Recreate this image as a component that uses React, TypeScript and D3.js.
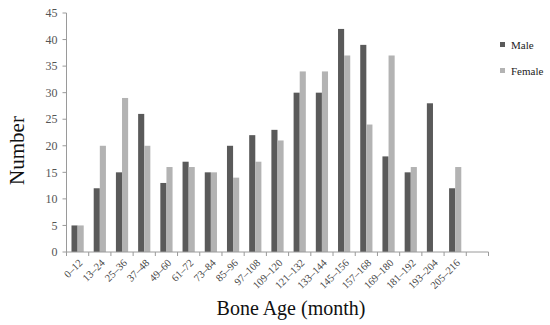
import React from 'react'
import * as d3 from 'd3'

const categories = [
  '0–12', '13–24', '25–36', '37–48', '49–60', '61–72', '73–84', '85–96', '97–108',
  '109–120', '121–132', '133–144', '145–156', '157–168', '169–180', '181–192',
  '193–204', '205–216', '',
]
const male = [5, 12, 15, 26, 13, 17, 15, 20, 22, 23, 30, 30, 42, 39, 18, 15, 28, 12, 0]
const female = [5, 20, 29, 20, 16, 16, 15, 14, 17, 21, 34, 34, 37, 24, 37, 16, 0, 16, 0]
const series = ['Male', 'Female']
const colors = ['#5a5a5a', '#b3b3b3']
const yTicks = [0, 5, 10, 15, 20, 25, 30, 35, 40, 45]

const App = () => {
  const ref = React.useRef<SVGSVGElement>(null)
  const width = 550
  const height = 325

  React.useEffect(() => {
    const svg = d3.select(ref.current)
    svg.selectAll('*').remove()

    const left = 66.5
    const right = 488.5
    const top = 13
    const bottom = 252

    const x = d3.scaleBand().domain(categories.map((_, i) => String(i)))
      .range([left, right]).paddingInner(0.45).paddingOuter(0.225)
    const xs = d3.scaleBand().domain(series).range([0, x.bandwidth()])
    const y = d3.scaleLinear().domain([0, 45]).range([bottom, top])

    const axisColor = '#9a9a9a'
    const font = '"Liberation Serif", "Times New Roman", serif'

    // bars
    const rows = categories.map((c, i) => ({ i, values: [male[i], female[i]] }))
    const g = svg.append('g')
    g.selectAll('g')
      .data(rows)
      .join('g')
      .attr('transform', (d) => `translate(${x(String(d.i))},0)`)
      .selectAll('rect')
      .data((d) => d.values.map((v, k) => ({ v, k })))
      .join('rect')
      .attr('x', (d) => xs(series[d.k]) as number)
      .attr('width', xs.bandwidth())
      .attr('y', (d) => y(d.v))
      .attr('height', (d) => bottom - y(d.v))
      .attr('fill', (d) => colors[d.k])

    // y axis
    const ya = svg.append('g').attr('transform', `translate(${left},0)`)
    ya.append('line').attr('y1', top).attr('y2', bottom).attr('stroke', axisColor)
    ya.selectAll('line.t').data(yTicks).join('line').attr('class', 't')
      .attr('x1', -4).attr('x2', 0).attr('y1', (d) => y(d)).attr('y2', (d) => y(d))
      .attr('stroke', axisColor)
    ya.selectAll('text').data(yTicks).join('text')
      .attr('x', -9).attr('y', (d) => y(d)).attr('dy', '0.35em')
      .attr('text-anchor', 'end')
      .style('font', `12px ${font}`).attr('fill', '#555')
      .text((d) => d)

    // x axis
    const step = x.step()
    const xa = svg.append('g').attr('transform', `translate(0,${bottom})`)
    xa.append('line').attr('x1', left).attr('x2', right).attr('stroke', axisColor)
    xa.selectAll('line.t').data(d3.range(categories.length + 1)).join('line').attr('class', 't')
      .attr('x1', (d) => left + d * step).attr('x2', (d) => left + d * step)
      .attr('y1', 0).attr('y2', 4).attr('stroke', axisColor)
    xa.selectAll('text').data(categories).join('text')
      .attr('transform', (d, i) => `translate(${left + (i + 0.5) * step + 3},9) rotate(-45)`)
      .attr('text-anchor', 'end').attr('dy', '0.35em')
      .style('font', `10.5px ${font}`).attr('fill', '#444')
      .text((d) => d)

    // axis titles
    svg.append('text')
      .attr('transform', `translate(24,${(top + bottom) / 2 + 18}) rotate(-90)`)
      .attr('text-anchor', 'middle')
      .style('font', `21px ${font}`).attr('fill', '#111')
      .text('Number')
    svg.append('text')
      .attr('x', 291).attr('y', 315)
      .attr('text-anchor', 'middle')
      .style('font', `20px ${font}`).attr('fill', '#111')
      .text('Bone Age (month)')

    // legend
    const lg = svg.append('g').selectAll('g').data(series).join('g')
      .attr('transform', (d, i) => `translate(500,${45 + i * 26})`)
    lg.append('rect').attr('x', 0).attr('y', -3).attr('width', 5).attr('height', 5)
      .attr('fill', (d, i) => colors[i])
    lg.append('text').attr('x', 11).attr('y', 0).attr('dy', '0.35em')
      .style('font', `11px ${font}`).attr('fill', '#222')
      .text((d) => d)
  }, [])

  return (
    <svg
      ref={ref}
      width={width}
      height={height}
      style={{ position: 'absolute', left: 0, top: 0, background: '#fff' }}
    />
  )
}

export default App
